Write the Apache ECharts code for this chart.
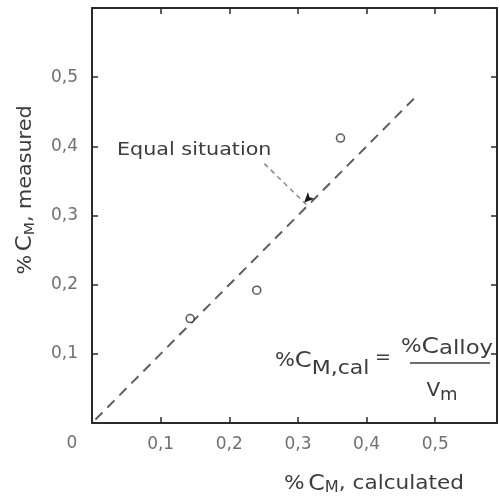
<!DOCTYPE html>
<html>
<head>
<meta charset="utf-8">
<script src="https://cdn.jsdelivr.net/npm/echarts@6/dist/echarts.min.js"></script>
<style>
  html, body { margin: 0; padding: 0; background: #fff; }
  #chart { width: 500px; height: 502px; }
</style>
</head>
<body>
<div id="chart"></div>
<script>
// Measured vs. calculated matrix carbon content
const calculated = [0.143, 0.24, 0.362];
const measured = [0.151, 0.192, 0.412];

// Line of equality (measured = calculated)
const equalX = [0.005, 0.475];
const equalY = [0.005, 0.475];

// Arrow from the "Equal situation" note to the line
const arrowFrom = [0.251, 0.375];
const arrowTo = [0.312, 0.316];

const xTickLabels = ['0,1', '0,2', '0,3', '0,4', '0,5'];
const yTickLabels = ['0,1', '0,2', '0,3', '0,4', '0,5'];

const FONT = '"DejaVu Sans", "Liberation Sans", sans-serif';
const INK = '#2a2a2a';
const LABEL = '#707070';
const TEXT = '#3c3c3c';

function tickText(labels) {
  return function (v) {
    const i = Math.round(v * 10) - 1;
    return (i >= 0 && i < labels.length) ? labels[i] : '';
  };
}

const frameAxis = {
  axisLine: { show: true, onZero: false, lineStyle: { color: INK, width: 2 } },
  axisTick: { show: true, inside: true, length: 6, lineStyle: { color: INK, width: 1.5 } },
  splitLine: { show: false }
};

function f(size) { return size + 'px ' + FONT; }

const chart = echarts.init(document.getElementById('chart'), null, { renderer: 'canvas' });

chart.setOption({
  backgroundColor: '#fff',
  animation: false,
  grid: { left: 92, top: 8, width: 407, height: 415 },
  xAxis: [
    Object.assign({
      type: 'value', min: 0, max: 0.59, interval: 0.1, position: 'bottom',
      axisLabel: { formatter: tickText(xTickLabels), color: LABEL, fontFamily: FONT, fontSize: 17, margin: 13 }
    }, frameAxis),
    Object.assign({
      type: 'value', min: 0, max: 0.59, interval: 0.1, position: 'top',
      axisLabel: { show: false }
    }, frameAxis)
  ],
  yAxis: [
    Object.assign({
      type: 'value', min: 0, max: 0.6, interval: 0.1, position: 'left',
      axisLabel: { formatter: tickText(yTickLabels), color: LABEL, fontFamily: FONT, fontSize: 17, margin: 14 }
    }, frameAxis),
    Object.assign({
      type: 'value', min: 0, max: 0.6, interval: 0.1, position: 'right',
      axisLabel: { show: false }
    }, frameAxis)
  ],
  series: [
    {
      name: 'Equal situation',
      type: 'line',
      data: equalX.map((x, i) => [x, equalY[i]]),
      symbol: 'none',
      lineStyle: { color: '#5e5e5e', width: 2, type: [10, 7] },
      z: 2
    },
    {
      name: 'measured',
      type: 'scatter',
      data: calculated.map((x, i) => [x, measured[i]]),
      symbol: 'circle',
      symbolSize: 8,
      itemStyle: { color: '#fff', borderColor: '#333', borderWidth: 1.6 },
      z: 4,
      markLine: {
        silent: true,
        symbol: ['none', 'none'],
        label: { show: false },
        lineStyle: { color: '#8a8a8a', width: 1.5, type: [5, 4] },
        data: [[{ coord: arrowFrom }, { coord: arrowTo }]]
      },
      markPoint: {
        silent: true,
        symbol: 'arrow',
        symbolSize: [7, 10],
        symbolRotate: 135,
        symbolOffset: [-2, -2],
        label: { show: false },
        itemStyle: { color: '#1a1a1a' },
        data: [{ coord: arrowTo }]
      }
    }
  ],
  graphic: [
    {
      type: 'text', x: 72, y: 444,
      style: { text: '0', font: f(17), fill: LABEL, align: 'center', verticalAlign: 'middle' }
    },
    {
      type: 'text', x: 117, y: 150, scaleX: 1.15,
      style: { text: 'Equal situation', font: f(18), fill: TEXT, verticalAlign: 'middle' }
    },
    {
      // y axis title
      type: 'text', x: 26, y: 190, rotation: Math.PI / 2, scaleX: 1.09,
      style: {
        text: '{p|%} {c|C}{s|M}{p|, measured}',
        align: 'center', verticalAlign: 'middle',
        rich: {
          p: { font: f(19), fill: TEXT },
          c: { font: f(21), fill: TEXT },
          s: { font: f(14), fill: TEXT, padding: [9, 0, 0, 0] }
        }
      }
    },
    {
      // x axis title
      type: 'text', x: 374, y: 484, scaleX: 1.08,
      style: {
        text: '{p|%} {c|C}{s|M}{p|, calculated}',
        align: 'center', verticalAlign: 'middle',
        rich: {
          p: { font: f(20), fill: TEXT },
          c: { font: f(22), fill: TEXT },
          s: { font: f(15), fill: TEXT, padding: [9, 0, 0, 0] }
        }
      }
    },
    {
      // formula: %C_M,cal = %C_alloy / V_m
      type: 'text', x: 275, y: 361, scaleX: 1.1,
      style: {
        text: '{p|%}{c|C}{s|M,cal}',
        verticalAlign: 'middle',
        rich: {
          p: { font: f(19), fill: TEXT },
          c: { font: f(22), fill: TEXT },
          s: { font: f(20), fill: TEXT, padding: [16, 0, 0, 0] }
        }
      }
    },
    {
      type: 'text', x: 383, y: 358,
      style: { text: '=', font: f(19), fill: TEXT, align: 'center', verticalAlign: 'middle' }
    },
    {
      type: 'text', x: 447, y: 347, scaleX: 1.14,
      style: {
        text: '{p|%}{c|C}{s|alloy}',
        align: 'center', verticalAlign: 'middle',
        rich: {
          p: { font: f(19), fill: TEXT },
          c: { font: f(22), fill: TEXT },
          s: { font: f(20), fill: TEXT, padding: [4, 0, 0, 0] }
        }
      }
    },
    {
      type: 'line',
      shape: { x1: 410, y1: 363, x2: 490, y2: 363 },
      style: { stroke: TEXT, lineWidth: 1.5 }
    },
    {
      type: 'text', x: 442, y: 391,
      style: {
        text: '{c|V}{s|m}',
        align: 'center', verticalAlign: 'middle',
        rich: {
          c: { font: f(20), fill: TEXT },
          s: { font: f(18), fill: TEXT, padding: [8, 0, 0, 0] }
        }
      }
    }
  ]
});
</script>
</body>
</html>
